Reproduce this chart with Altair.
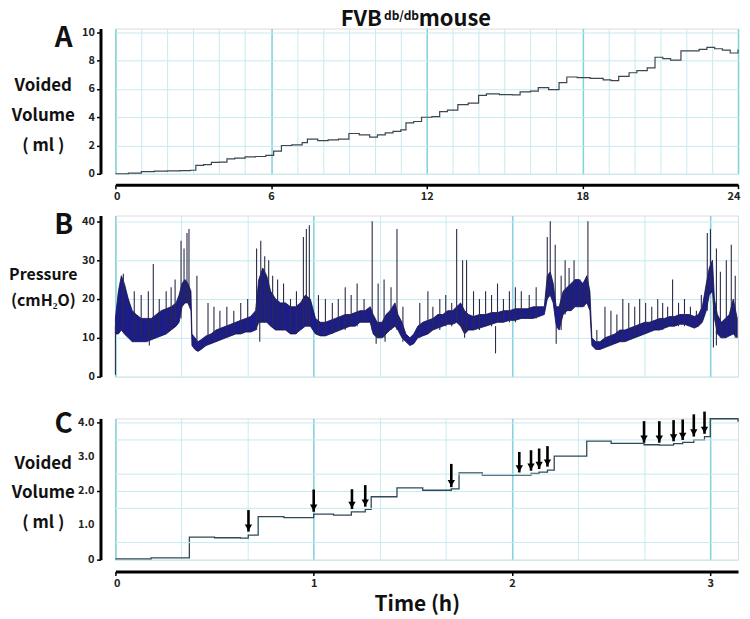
import altair as alt
import pandas as pd

# ---------------- data ----------------
# Panel A: 24 h voided volume (ml)
a_time = [0, 0.5, 1.0, 1.5, 2.0, 2.5, 2.9, 3.1, 3.4, 3.7, 4.0, 4.3, 4.6, 5.0, 5.4, 5.8,
          6.1, 6.4, 6.8, 7.2, 7.4, 7.8, 8.2, 8.6, 9.0, 9.4, 9.8, 10.1, 10.4, 10.7, 11.0,
          11.2, 11.5, 11.8, 12.2, 12.5, 12.8, 13.2, 13.6, 14.0, 14.3, 14.8, 15.3, 15.6,
          16.0, 16.3, 16.7, 17.1, 17.4, 17.8, 18.3, 18.8, 19.1, 19.4, 19.8, 20.1, 20.5,
          20.8, 21.1, 21.4, 21.8, 22.1, 22.5, 22.8, 23.1, 23.4, 23.7, 24.0]
a_vol = [0.0, 0.05, 0.15, 0.18, 0.2, 0.22, 0.25, 0.6, 0.65, 0.8, 0.82, 1.05, 1.1, 1.2, 1.22, 1.3,
         1.6, 2.0, 2.05, 2.2, 2.45, 2.35, 2.4, 2.45, 2.85, 2.75, 2.6, 2.75, 2.9, 3.0, 3.1,
         3.6, 3.7, 4.0, 4.05, 4.4, 4.5, 4.9, 5.0, 5.55, 5.65, 5.6, 5.58, 5.8,
         5.85, 6.1, 5.95, 6.45, 6.85, 6.8, 6.75, 6.65, 6.6, 6.9, 7.15, 7.3, 7.5,
         8.25, 8.15, 8.05, 8.7, 8.7, 8.8, 8.95, 8.85, 8.75, 8.55, 8.8]

# Panel B: bladder pressure (cmH2O) over 3 h, dense band (low/high envelope)
b_time = [0.000, 0.015, 0.030, 0.045, 0.065, 0.085, 0.105, 0.130, 0.156, 0.181, 0.206, 0.231,
          0.256, 0.281, 0.306, 0.321, 0.336, 0.351, 0.366, 0.381, 0.386, 0.401, 0.416, 0.432,
          0.457, 0.482, 0.507, 0.532, 0.557, 0.582, 0.607, 0.632, 0.657, 0.682, 0.707, 0.723,
          0.743, 0.763, 0.783, 0.808, 0.833, 0.858, 0.883, 0.908, 0.933, 0.958, 0.983, 1.009,
          1.034, 1.059, 1.084, 1.109, 1.134, 1.159, 1.184, 1.209, 1.234, 1.259, 1.285, 1.300,
          1.320, 1.345, 1.365, 1.385, 1.410, 1.425, 1.445, 1.465, 1.485, 1.505, 1.525, 1.550,
          1.576, 1.601, 1.626, 1.651, 1.676, 1.701, 1.721, 1.741, 1.761, 1.781, 1.806, 1.836,
          1.867, 1.897, 1.927, 1.957, 1.987, 2.017, 2.047, 2.077, 2.107, 2.137, 2.163, 2.178,
          2.193, 2.208, 2.223, 2.238, 2.258, 2.278, 2.298, 2.318, 2.338, 2.358, 2.378, 2.393,
          2.403, 2.423, 2.444, 2.469, 2.494, 2.519, 2.544, 2.569, 2.594, 2.619, 2.644, 2.669,
          2.694, 2.720, 2.745, 2.770, 2.795, 2.820, 2.845, 2.870, 2.895, 2.920, 2.940, 2.960,
          2.980, 2.995, 3.011, 3.021, 3.036, 3.056, 3.076, 3.096, 3.116, 3.136]
b_low = [11, 11, 12, 11, 10, 9, 9, 9, 9, 9.5, 10, 10.5,
         11, 12, 13, 14, 18, 19, 19, 17, 8, 7, 6.5, 7,
         8, 8.5, 9, 9.5, 10, 10.5, 11, 11, 11.5, 11.5, 12, 14,
         14, 14, 13, 12, 12, 12, 11, 11, 12, 13, 13, 11,
         10.5, 10.5, 11, 11.5, 12, 12.5, 13, 13, 14, 14, 14, 11,
         10, 10, 11, 12, 13, 12, 10, 9, 8, 8.5, 10, 10.5,
         11, 12, 12.5, 13, 13.5, 13.5, 14, 13, 11, 12, 12, 12.5,
         13, 13.5, 14, 14, 14.5, 14.5, 15, 15, 15, 15.5, 16, 20,
         21, 19, 13, 12, 16, 17, 17, 18, 18, 18, 19, 17,
         8, 7, 7, 7.5, 8, 8.5, 9, 9, 9.5, 10, 10.5, 11,
         11.5, 12, 12, 12.5, 13, 13, 13.5, 13.5, 13, 12.5, 13, 14,
         17, 21, 22, 15, 11, 10, 10, 10.5, 11, 10]
b_high = [15, 22, 26, 24, 20, 17, 16, 15, 15, 15, 16, 17,
          17.5, 18, 19, 21, 24, 25, 24, 22, 11, 10, 9, 9.5,
          10.5, 11, 12, 12.5, 13, 13.5, 14, 14.5, 15, 15.5, 17, 25,
          28, 26, 22, 20, 19, 19, 18, 18, 19, 21, 20, 15,
          14, 14, 14.5, 15, 15.5, 16, 16, 16.5, 17, 17, 18, 16,
          14, 14, 16, 17, 19, 16, 14, 11, 10, 11, 13, 14,
          14.5, 15, 16, 16, 17, 17, 18, 19, 17, 16, 15.5, 16,
          16, 16.5, 16.5, 17, 17, 17.5, 17.5, 17.5, 18, 18, 18, 26,
          27, 24, 18, 18, 22, 23, 24, 25, 25, 24, 26, 22,
          10, 9, 9, 10, 10.5, 11, 12, 12, 12.5, 13, 13.5, 14,
          14, 14.5, 15, 15, 15.5, 15.5, 16, 16, 16, 15.5, 16, 18,
          24, 28, 30, 20, 16, 14, 15, 16, 20, 15]

# Panel B: individual pressure spikes (time h, from, to)
spike_time = [0.040, 0.095, 0.130, 0.166, 0.191, 0.221, 0.256, 0.281, 0.301, 0.331, 0.346, 0.361,
              0.371, 0.411, 0.467, 0.497, 0.527, 0.562, 0.597, 0.632, 0.667, 0.712, 0.733, 0.753,
              0.773, 0.793, 0.818, 0.848, 0.883, 0.913, 0.948, 0.963, 0.978, 1.024, 1.059, 1.094,
              1.124, 1.159, 1.189, 1.219, 1.254, 1.295, 1.325, 1.355, 1.390, 1.420, 1.450, 1.535,
              1.576, 1.601, 1.636, 1.666, 1.696, 1.721, 1.751, 1.771, 1.806, 1.836, 1.867, 1.897,
              1.927, 1.957, 1.987, 2.017, 2.047, 2.087, 2.122, 2.178, 2.193, 2.218, 2.248, 2.268,
              2.288, 2.313, 2.343, 2.363, 2.383, 2.428, 2.469, 2.499, 2.529, 2.559, 2.589, 2.619,
              2.644, 2.674, 2.705, 2.735, 2.760, 2.785, 2.810, 2.840, 2.870, 2.900, 2.930, 2.955,
              2.985, 3.001, 3.031, 3.051, 3.081, 3.106, 3.126,
              0.000, 0.171, 0.728, 1.315, 1.360, 1.761, 1.917, 2.223, 3.016, 3.031]
spike_from = [12, 10, 10, 10, 10, 11, 12, 12, 13, 15, 19, 19,
              19, 8, 9, 9, 10, 10, 11, 11, 12, 12, 14, 14,
              14, 13, 12, 12, 11, 11, 13, 13, 13, 11, 11, 11,
              12, 12, 13, 13, 14, 12, 10, 10, 12, 12, 9, 10,
              11, 12, 12, 13, 13, 14, 12, 12, 12, 12, 13, 13,
              14, 14, 14, 14, 15, 15, 15, 20, 21, 19, 12, 16,
              17, 18, 18, 18, 19, 7, 8, 8, 9, 9, 10, 10,
              11, 11, 12, 12, 12, 13, 13, 13, 13, 13, 13, 14,
              17, 22, 11, 10, 10, 11, 10,
              0.5, 8, 9, 8.5, 9, 10, 6, 8.5, 7.5, 8]
spike_to = [26.5, 22, 21, 22, 29, 20, 22, 23, 25, 35, 33, 37,
            38, 26, 19, 18, 17, 18, 17, 19, 20, 33, 35, 31,
            30, 26, 25, 24, 20, 22, 36, 38, 39, 21, 20, 19,
            20, 23, 21, 24, 20, 40, 24, 25, 23, 38, 18, 19,
            22, 18, 20, 21, 19, 38, 30, 30, 22, 20, 22, 21,
            24, 20, 22, 23, 22, 21, 23, 36, 40, 34, 26, 30,
            28, 30, 25, 24, 40, 12, 18, 17, 16, 20, 19, 18,
            20, 19, 18, 20, 19, 18, 25, 19, 20, 18, 17, 21,
            37, 38, 33, 27, 30, 34, 26,
            13, 12, 14, 12, 12, 13, 13, 13, 20, 12]

# Panel C: first 3 h voided volume (ml)
c_time = [0, 0.18, 0.373, 0.5, 0.63, 0.67, 0.72, 0.85, 1.0, 1.1, 1.19, 1.26, 1.29, 1.42, 1.55,
          1.694, 1.733, 1.85, 2.037, 2.096, 2.137, 2.179, 2.213, 2.377, 2.5, 2.666, 2.743,
          2.815, 2.861, 2.917, 2.971, 3.0, 3.14]
c_vol = [0.02, 0.05, 0.66, 0.64, 0.63, 0.72, 1.26, 1.23, 1.33, 1.3, 1.4, 1.47, 1.84, 2.1, 2.03,
         2.07, 2.54, 2.47, 2.47, 2.52, 2.56, 2.62, 3.03, 3.47, 3.4, 3.36, 3.35,
         3.39, 3.43, 3.5, 3.6, 4.12, 4.03]

# Panel C: arrows marking small voids (time h, arrow tip, arrow tail)
arrow_time = [0.671, 1.0, 1.193, 1.26, 1.694, 2.037, 2.096, 2.137, 2.179,
              2.666, 2.743, 2.815, 2.861, 2.917, 2.971]
arrow_tip = [0.82, 1.40, 1.48, 1.55, 2.12, 2.55, 2.6, 2.65, 2.72,
             3.42, 3.42, 3.46, 3.5, 3.6, 3.68]
arrow_tail = [1.45, 2.05, 2.06, 2.18, 2.8, 3.15, 3.2, 3.25, 3.32,
              4.05, 4.05, 4.08, 4.1, 4.25, 4.33]

a_ticks = list(range(0, 25))
a_yticks = [0, 2, 4, 6, 8, 10]
bc_ticks = [k / 6 for k in range(19)]
b_yticks = [0, 5, 10, 15, 20, 25, 30, 35, 40]
c_yticks = [0, 1, 2, 3, 4]
c_ylabels = ["0", "1.0", "2.0", "3.0", "4.0"]
c_yhalf = [0.5, 1.5, 2.5, 3.5]

# ---------------- style ----------------
FONT = "Noto Sans CJK KR"
MINOR = "#c6ebf0"
MAJOR = "#86d3de"
W = 626

one = pd.DataFrame({"k": [0]})


def txt(text, x, y, size, align="center", baseline="middle"):
    return alt.Chart(one).mark_text(
        text=text, font=FONT, fontSize=size, fontWeight="bold", color="#111",
        align=align, baseline=baseline
    ).encode(x=alt.value(x), y=alt.value(y))


lab = dict(labelFont=FONT, labelFontWeight="bold", labelFontSize=11, labelColor="#222",
           labelOverlap=False, tickColor="black", tickWidth=1.5, tickSize=4,
           domainColor="black", domainWidth=3)
ytitle = dict(titleAngle=0, titleAlign="center", titleBaseline="middle", titleFont=FONT,
              titleFontSize=17, titleFontWeight="bold", titleColor="#111")

# ---------------- panel A ----------------
majA = "datum.value % 6 === 0"
dfA = pd.DataFrame({"t": a_time, "v": a_vol})
lineA = alt.Chart(dfA).mark_line(interpolate="step-after", color="#3a4750", strokeWidth=1.2).encode(
    x=alt.X("t:Q", scale=alt.Scale(domain=[0, 24], nice=False),
            axis=alt.Axis(values=a_ticks, title=None, offset=11, labelPadding=2,
                          labelFlush=True, labelFlushOffset=2,
                          gridColor=alt.condition(majA, alt.value(MAJOR), alt.value(MINOR)),
                          gridWidth=alt.condition(majA, alt.value(1.6), alt.value(1)),
                          tickOpacity=alt.condition(majA, alt.value(1), alt.value(0)),
                          labelExpr="datum.value % 6 === 0 ? datum.label : ''", **lab)),
    y=alt.Y("v:Q", scale=alt.Scale(domain=[0, 10.28], nice=False),
            axis=alt.Axis(values=a_yticks, title=["Voided", "Volume", "( ml )"],
                          titleX=-58, titleY=57, titleLineHeight=30.5, offset=15,
                          gridColor=MINOR, labelPadding=2, **lab, **ytitle)),
)
panelA = alt.layer(
    lineA,
    txt("A", -52, 11, 28),
    txt("FVB", 268, -3, 22, align="right", baseline="alphabetic"),
    txt("db/db", 270, -9, 12, align="left", baseline="alphabetic"),
    txt("mouse", 305, -3, 22, align="left", baseline="alphabetic"),
).properties(width=W, height=146)

# ---------------- panel B ----------------
majBC = "abs(datum.value - round(datum.value)) < 0.001"
xB = alt.X("t:Q", scale=alt.Scale(domain=[0, 3.14], nice=False),
           axis=alt.Axis(values=bc_ticks, title=None, labels=False, ticks=False, domain=False,
                         gridColor=alt.condition(majBC, alt.value(MAJOR), alt.value(MINOR)),
                         gridWidth=alt.condition(majBC, alt.value(1.6), alt.value(1))))
dfB = pd.DataFrame({"t": b_time, "lo": b_low, "hi": b_high})
bandB = alt.Chart(dfB).mark_area(color="#1d1d8a", stroke="#10104a", strokeWidth=0.8).encode(
    x=xB,
    y=alt.Y("lo:Q", scale=alt.Scale(domain=[0, 41.5], nice=False),
            axis=alt.Axis(values=b_yticks, title=["Pressure", "(cmH₂O)"],
                          titleX=-58, titleY=59, titleLineHeight=26, offset=15, labelPadding=2,
                          gridColor=MINOR,
                          tickOpacity=alt.condition("datum.value % 10 === 0", alt.value(1), alt.value(0)),
                          labelExpr="datum.value % 10 === 0 ? datum.label : ''",
                          **lab, **{**ytitle, "titleFontSize": 16})),
    y2="hi:Q",
)
dfS = pd.DataFrame({"t": spike_time, "a": spike_from, "b": spike_to})
spikesB = alt.Chart(dfS).mark_rule(color="#2a2a4a", strokeWidth=1.1).encode(
    x="t:Q", y="a:Q", y2="b:Q")
panelB = alt.layer(bandB, spikesB, txt("B", -52, 11, 28)).properties(width=W, height=162)

# ---------------- panel C ----------------
c_xvals = bc_ticks + [3.14]
labC = majBC + " || datum.value > 3.1"
dfC = pd.DataFrame({"t": c_time, "v": c_vol})
lineC = alt.Chart(dfC).mark_line(interpolate="step-after", color="#2e4a5a", strokeWidth=1.3).encode(
    x=alt.X("t:Q", scale=alt.Scale(domain=[0, 3.14], nice=False),
            axis=alt.Axis(values=c_xvals, title="Time (h)", offset=12, labelPadding=2,
                          labelFlush=True, labelFlushOffset=2,
                          titleFont=FONT, titleFontSize=21, titleFontWeight="bold",
                          titleColor="#111", titleX=303, titleY=39, titleBaseline="alphabetic",
                          gridColor=alt.condition(majBC, alt.value(MAJOR), alt.value(MINOR)),
                          gridWidth=alt.condition(majBC, alt.value(1.6), alt.value(1)),
                          gridOpacity=alt.condition("datum.value > 3.1", alt.value(0), alt.value(1)),
                          tickOpacity=alt.condition(labC, alt.value(1), alt.value(0)),
                          labelExpr="datum.value > 3.1 ? '3' : (abs(datum.value - round(datum.value)) < 0.001 ? format(datum.value, 'd') : '')",
                          **lab)),
    y=alt.Y("v:Q", scale=alt.Scale(domain=[0, 4.13], nice=False),
            axis=alt.Axis(values=c_yticks, title=["Voided", "Volume", "( ml )"],
                          titleX=-58, titleY=45, titleLineHeight=30, offset=15, labelPadding=2,
                          gridColor=MINOR, labels=False,
                          **lab, **ytitle)),
)
dfHalf = pd.DataFrame({"g": c_yhalf})
halfGridC = alt.Chart(dfHalf).mark_rule(color=MINOR, strokeWidth=1).encode(y="g:Q")
dfYlab = pd.DataFrame({"v": c_yticks, "s": c_ylabels})
ylabC = alt.Chart(dfYlab).mark_text(font=FONT, fontSize=11, fontWeight="bold", color="#222",
                                    align="right", baseline="middle").encode(
    x=alt.value(-21), y="v:Q", text="s:N")
dfArr = pd.DataFrame({"t": arrow_time, "tip": arrow_tip, "tail": arrow_tail})
shaftC = alt.Chart(dfArr).mark_rule(color="black", strokeWidth=2.6).encode(
    x="t:Q", y="tail:Q", y2="tip:Q")
headC = alt.Chart(dfArr).mark_point(shape="triangle-down", filled=True, color="black",
                                    size=55, opacity=1, yOffset=-4).encode(x="t:Q", y="tip:Q")
panelC = alt.layer(lineC, halfGridC, shaftC, headC, ylabC, txt("C", -52, 7, 28)).properties(
    width=W, height=142)

chart = alt.vconcat(panelA, panelB, panelC, spacing=42, bounds="flush").properties(
    padding={"top": -3, "left": 0, "right": 0, "bottom": 0}
).configure_view(stroke=None).configure(background="white")

chart.save("out.html", embed_options={"renderer": "svg", "actions": False})
